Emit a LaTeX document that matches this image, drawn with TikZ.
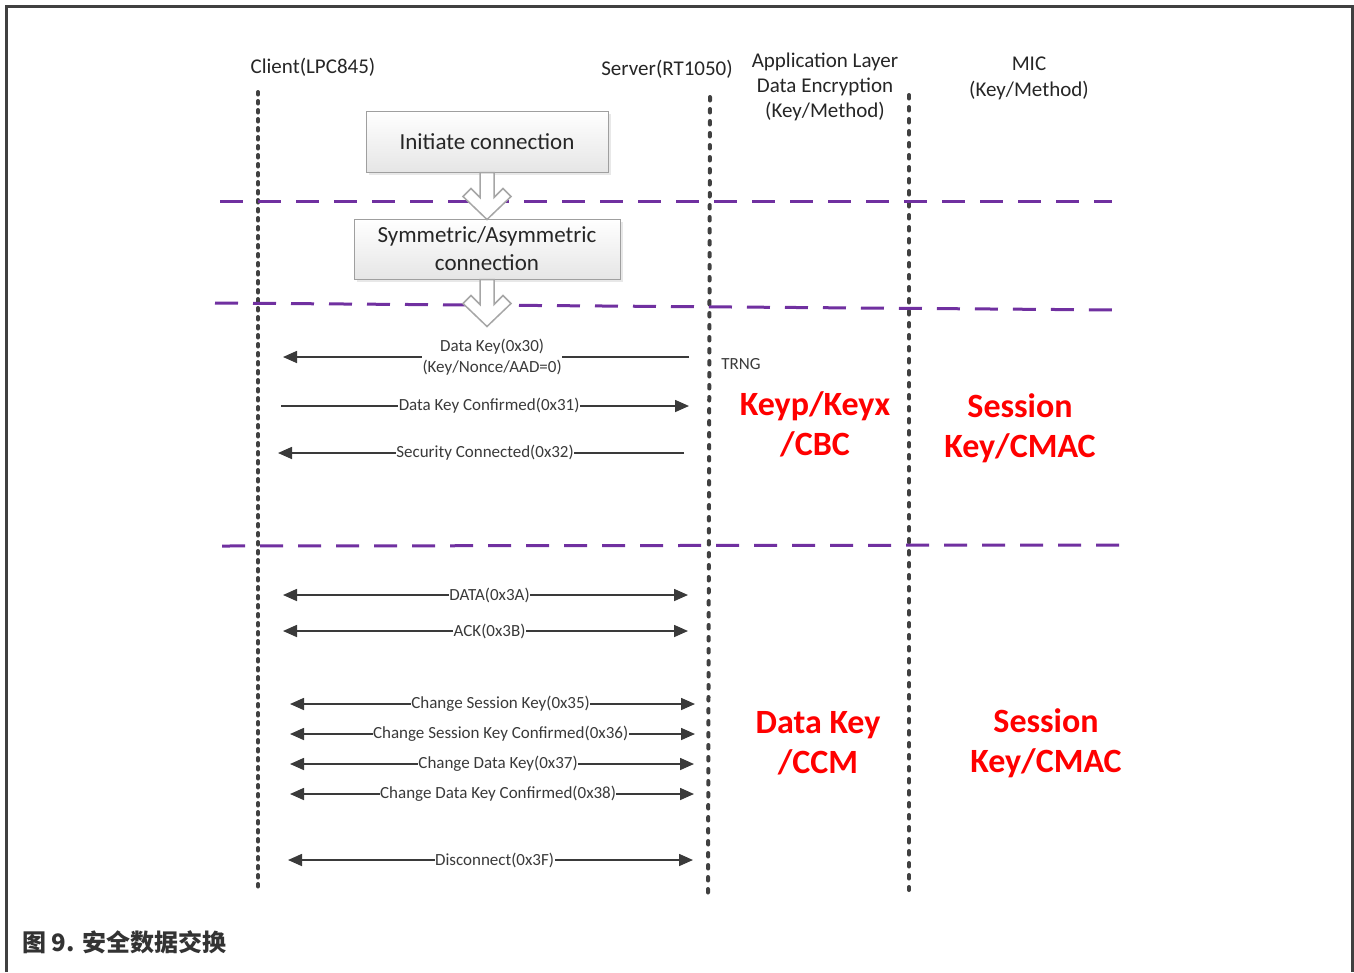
\documentclass[tikz,border=0pt]{standalone}
\usepackage{fontspec}
\setmainfont{Carlito}
\newfontfamily\cjkfont{Noto Sans CJK SC}
\usetikzlibrary{arrows.meta,shadows}
\definecolor{framegray}{HTML}{404040}
\definecolor{dgray}{HTML}{3A3A3A}
\definecolor{lgray}{HTML}{404040}
\definecolor{purp}{HTML}{7030A0}
\definecolor{keyred}{HTML}{FF0000}
\definecolor{capgray}{HTML}{333333}
\tikzset{
  lifeclient/.style={line width=4pt, draw=lgray, line cap=round, dash pattern=on 2.5pt off 6.5pt},
  lifeother/.style={line width=4pt, draw=lgray, line cap=round, dash pattern=on 3.5pt off 8.5pt},
  phase/.style={draw=purp, line width=3pt, dash pattern=on 23pt off 15pt},
  box/.style={draw=gray!75, line width=1pt, top color=white, bottom color=gray!20,
    drop shadow={shadow xshift=3pt, shadow yshift=-3pt, fill=gray!35},
    align=center, font=\fontsize{23}{28}\selectfont, text=black!85},
  barrow/.style={draw=gray!70, fill=white, line width=1.5pt, line join=miter},
  msg/.style={draw=dgray, line width=1.6pt, -{Triangle[length=14pt,width=12pt]}},
  msgb/.style={draw=dgray, line width=1.6pt, {Triangle[length=14pt,width=12pt]}-{Triangle[length=14pt,width=12pt]}},
  msgl/.style={fill=white, inner sep=0.5pt, align=center, text=dgray, font=\fontsize{17}{21}\selectfont},
  hdr/.style={align=center, text=black!85, font=\fontsize{21}{25}\selectfont},
  keytxt/.style={align=center, text=keyred, font=\bfseries\fontsize{34}{40}\selectfont},
}
\begin{document}
\begin{tikzpicture}[x=1pt,y=-1pt]
\useasboundingbox (0,0) rectangle (1354,972);
\fill[white] (0,0) rectangle (1354,972);
% frame
\draw[line width=3pt, framegray] (6,972) -- (6,6) -- (1352,6) -- (1352,972);

% headers
\node[hdr] (client) at (313,67) {Client(LPC845)};
\node[hdr] (server) at (667,69) {Server(RT1050)};
\node[hdr] (app) at (825,87) {Application Layer\\Data Encryption\\(Key/Method)};
\node[hdr, font=\fontsize{21}{26}\selectfont] (mic) at (1029,78) {MIC\\(Key/Method)};

% lifelines
\coordinate (cT) at (258,92);  \coordinate (cB) at (258,888);
\coordinate (sT) at (710,97);  \coordinate (sB) at (708,893);
\coordinate (kT) at (909,95);  \coordinate (kB) at (909,890);
\draw[lifeclient] (cT) -- (cB);
\draw[lifeother] (sT) -- (sB);
\draw[lifeother] (kT) -- (kB);

% phase separators
\coordinate (p1a) at (220,201); \coordinate (p1b) at (1112,201);
\coordinate (p2a) at (215,303); \coordinate (p2b) at (1120,310);
\coordinate (p3a) at (222,546); \coordinate (p3b) at (1122,545);
\draw[phase] (p1a) -- (p1b);
\draw[phase] (p2a) -- (p2b);
\draw[phase] (p3a) -- (p3b);

% boxes
\node[box, minimum width=242pt, minimum height=61pt] (b1) at (487,141.5) {Initiate connection};
\node[box, minimum width=266pt, minimum height=60pt] (b2) at (487,249) {Symmetric/Asymmetric\\connection};

% block arrows
\draw[barrow] (b1.south) ++(-7,0) -- ++(0,25) -- ++(-9,-9) -- ++(-8,8) -- ++(24,23) -- ++(24,-23) -- ++(-8,-8) -- ++(-9,9) -- ++(0,-25) -- cycle;
\draw[barrow] (b2.south) ++(-7,0) -- ++(0,25) -- ++(-9,-9) -- ++(-8,8) -- ++(24,23) -- ++(24,-23) -- ++(-8,-8) -- ++(-9,9) -- ++(0,-25) -- cycle;

% messages
\coordinate (m1a) at (689,357); \coordinate (m1b) at (283,357);
\coordinate (m2a) at (281,406); \coordinate (m2b) at (689,406);
\coordinate (m3a) at (684,453); \coordinate (m3b) at (278,453);
\coordinate (m4a) at (283,595); \coordinate (m4b) at (688,595);
\coordinate (m5a) at (283,631); \coordinate (m5b) at (688,631);
\coordinate (m6a) at (290,704); \coordinate (m6b) at (695,704);
\coordinate (m7a) at (290,734); \coordinate (m7b) at (695,734);
\coordinate (m8a) at (290,764); \coordinate (m8b) at (694,764);
\coordinate (m9a) at (290,794); \coordinate (m9b) at (694,794);
\coordinate (m10a) at (288,860); \coordinate (m10b) at (693,860);

\draw[msg] (m1a) -- node[msgl, pos=0.485] (l1) {Data Key(0x30)\\(Key/Nonce/AAD=0)} (m1b);
\draw[msg] (m2a) -- node[msgl, pos=0.51] (l2) {Data Key Confirmed(0x31)} (m2b);
\draw[msg] (m3a) -- node[msgl, pos=0.49] (l3) {Security Connected(0x32)} (m3b);
\draw[msgb] (m4a) -- node[msgl, pos=0.51] (l4) {DATA(0x3A)} (m4b);
\draw[msgb] (m5a) -- node[msgl, pos=0.51] (l5) {ACK(0x3B)} (m5b);
\draw[msgb] (m6a) -- node[msgl, pos=0.52] (l6) {Change Session Key(0x35)} (m6b);
\draw[msgb] (m7a) -- node[msgl, pos=0.52] (l7) {Change Session Key Confirmed(0x36)} (m7b);
\draw[msgb] (m8a) -- node[msgl, pos=0.515] (l8) {Change Data Key(0x37)} (m8b);
\draw[msgb] (m9a) -- node[msgl, pos=0.515] (l9) {Change Data Key Confirmed(0x38)} (m9b);
\draw[msgb] (m10a) -- node[msgl, pos=0.51] (l10) {Disconnect(0x3F)} (m10b);

\node[msgl, fill=none] (trng) at (741,364) {TRNG};

% red key/method labels
\node[keytxt] (k1) at (815,424.5) {Keyp/Keyx\\/CBC};
\node[keytxt] (k2) at (1020,428) {Session\\Key/CMAC};
\node[keytxt] (k3) at (818,743) {Data Key\\/CCM};
\node[keytxt] (k4) at (1046,743) {Session\\Key/CMAC};

% caption
\node[anchor=west, text=capgray, inner sep=0pt] (cap) at (22,942) {\cjkfont\bfseries\fontsize{24}{27}\selectfont 图 9. 安全数据交换};
\end{tikzpicture}
\end{document}
